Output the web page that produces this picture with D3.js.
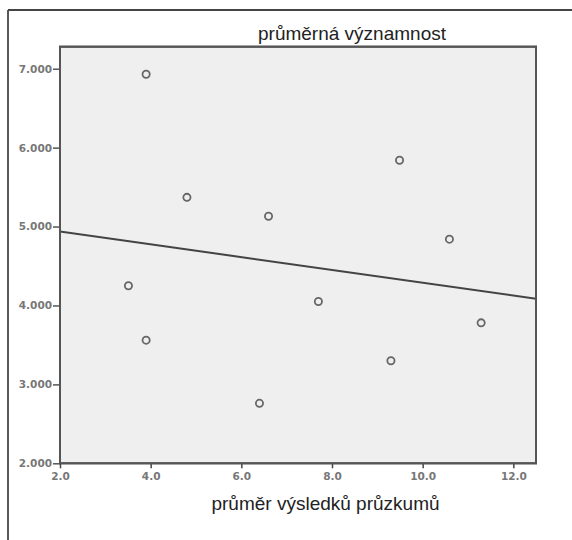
<!DOCTYPE html>
<html>
<head>
<meta charset="utf-8">
<script src="https://cdn.jsdelivr.net/npm/d3@7/dist/d3.min.js"></script>
<style>
  html, body { margin: 0; padding: 0; background: #fff; }
  svg { display: block; }
</style>
</head>
<body>
<svg id="chart" width="572" height="540"></svg>
<script>
// Data
const xValues = [3.51, 3.90, 3.90, 4.80, 6.60, 6.40, 7.70, 9.30, 9.49, 10.59, 11.29];
const yValues = [4.25, 6.93, 3.56, 5.37, 5.13, 2.76, 4.05, 3.30, 5.84, 4.84, 3.78];
const xTicks = [2, 4, 6, 8, 10, 12];
const yTicks = [2, 3, 4, 5, 6, 7];
const titleText = "průměrná významnost";
const xLabelText = "průměr výsledků průzkumů";

const svg = d3.select("#chart");
const plot = { left: 60, top: 46.7, right: 536, bottom: 463.3 };

const x = d3.scaleLinear().domain([2, 12.5]).range([plot.left, plot.right]);
const y = d3.scaleLinear().domain([2, 7.279]).range([plot.bottom, plot.top]);

// outer frame (left + top lines)
svg.append("line").attr("x1", 8).attr("x2", 8).attr("y1", 10).attr("y2", 540)
  .attr("stroke", "#222").attr("stroke-width", 1.5);
svg.append("line").attr("x1", 8).attr("x2", 572).attr("y1", 10).attr("y2", 10)
  .attr("stroke", "#444").attr("stroke-width", 1.8);

// plot background
svg.append("rect")
  .attr("x", plot.left).attr("y", plot.top)
  .attr("width", plot.right - plot.left).attr("height", plot.bottom - plot.top)
  .attr("fill", "#efefef").attr("stroke", "#555").attr("stroke-width", 2);

// axes
const tickFont = g => g.selectAll("text")
  .attr("font-family", "DejaVu Sans").attr("font-weight", "bold")
  .attr("font-size", "10.5px").attr("fill", "#777");

const yAxis = svg.append("g").attr("transform", `translate(${plot.left},0)`)
  .call(d3.axisLeft(y).tickValues(yTicks).tickFormat(d3.format(".3f")).tickSize(7).tickPadding(1));
yAxis.select(".domain").remove();
yAxis.selectAll("line").attr("stroke", "#555").attr("stroke-width", 1.5);
yAxis.call(tickFont);

const xAxis = svg.append("g").attr("transform", `translate(0,${plot.bottom})`)
  .call(d3.axisBottom(x).tickValues(xTicks).tickFormat(d3.format(".1f")).tickSize(5).tickPadding(4));
xAxis.select(".domain").remove();
xAxis.selectAll("line").attr("stroke", "#444").attr("stroke-width", 1.5);
xAxis.call(tickFont);

// regression line (least squares fit)
const n = xValues.length;
const mx = d3.mean(xValues), my = d3.mean(yValues);
let sxy = 0, sxx = 0;
for (let i = 0; i < n; i++) { sxy += (xValues[i]-mx)*(yValues[i]-my); sxx += (xValues[i]-mx)**2; }
const slope = sxy / sxx, intercept = my - slope * mx;
const xd = x.domain();
svg.append("line")
  .attr("x1", x(xd[0])).attr("y1", y(intercept + slope * xd[0]))
  .attr("x2", x(xd[1])).attr("y2", y(intercept + slope * xd[1]))
  .attr("stroke", "#444").attr("stroke-width", 2);

// redraw frame on top
svg.append("rect")
  .attr("x", plot.left).attr("y", plot.top)
  .attr("width", plot.right - plot.left).attr("height", plot.bottom - plot.top)
  .attr("fill", "none").attr("stroke", "#555").attr("stroke-width", 2);

// points
svg.append("g").selectAll("circle")
  .data(xValues.map((v, i) => [v, yValues[i]]))
  .join("circle")
  .attr("cx", d => x(d[0])).attr("cy", d => y(d[1]))
  .attr("r", 3.6).attr("fill", "none").attr("stroke", "#666").attr("stroke-width", 1.8);

// title and axis label
svg.append("text").attr("x", 352).attr("y", 40).attr("text-anchor", "middle")
  .attr("font-family", "Liberation Sans, Arial, sans-serif").attr("font-size", "19px")
  .attr("fill", "#222").text(titleText);
svg.append("text").attr("x", 325.5).attr("y", 510).attr("text-anchor", "middle")
  .attr("font-family", "Liberation Sans, Arial, sans-serif").attr("font-size", "19px")
  .attr("fill", "#222").text(xLabelText);
</script>
</body>
</html>
